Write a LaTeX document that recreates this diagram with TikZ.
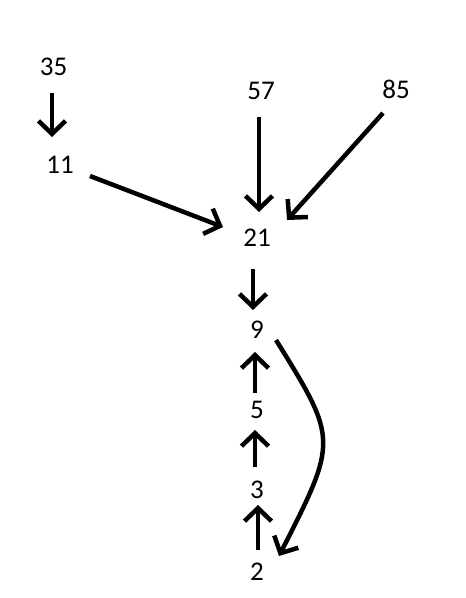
\documentclass[tikz,border=0pt]{standalone}
\usepackage{fontspec}
\setmainfont{Carlito}
\usetikzlibrary{arrows.meta}

\begin{document}
\begin{tikzpicture}[x=1pt,y=-1pt,
	num/.style={inner sep=0pt,font=\fontsize{27}{32}\selectfont},
	arr/.style={line width=4.5pt,-{Straight Barb[length=13pt,width=27pt,line width=4.5pt]}}]
			  \useasboundingbox (0,0) rectangle (466,598);
			  \node[num] (n35) at (53.5,66.5) {35};
			  \node[num] (n11) at (60,165) {11};
			  \node[num] (n57) at (261,91) {57};
			  \node[num] (n85) at (396,89) {85};
			  \node[num] (n21) at (257,238) {21};
			  \node[num] (n9) at (257,330) {9};
			  \node[num] (n5) at (257,410) {5};
			  \node[num] (n3) at (257,490) {3};
			  \node[num] (n2) at (257,572) {2};
			  % into 21
			  \draw[arr] ([shift={(-1.5,26.5)}]n35.center) -- ([shift={(-8,-28)}]n11.center);
			  \draw[arr] ([shift={(30,11)}]n11.center) -- ([shift={(-34,-11)}]n21.center);
			  \draw[arr] ([shift={(-2,26)}]n57.center) -- ([shift={(2,-26)}]n21.center);
			  \draw[arr] ([shift={(-13,24)}]n85.center) -- ([shift={(30,-18)}]n21.center);
			  \draw[arr] ([shift={(-4,31)}]n21.center) -- ([shift={(-4,-20)}]n9.center);
			  % up the chain
			  \draw[arr] ([shift={(-2,-17)}]n5.center) -- ([shift={(-2,22)}]n9.center);
			  \draw[arr] ([shift={(-2,-23)}]n3.center) -- ([shift={(-2,20)}]n5.center);
			  \draw[arr] ([shift={(1,-22)}]n2.center) -- ([shift={(1,15)}]n3.center);
			  \draw[arr] ([shift={(19,10)}]n9.center) .. controls (338,440) and (338,440) .. ([shift={(22,-16)}]n2.center);
			\end{tikzpicture}
\end{document}
